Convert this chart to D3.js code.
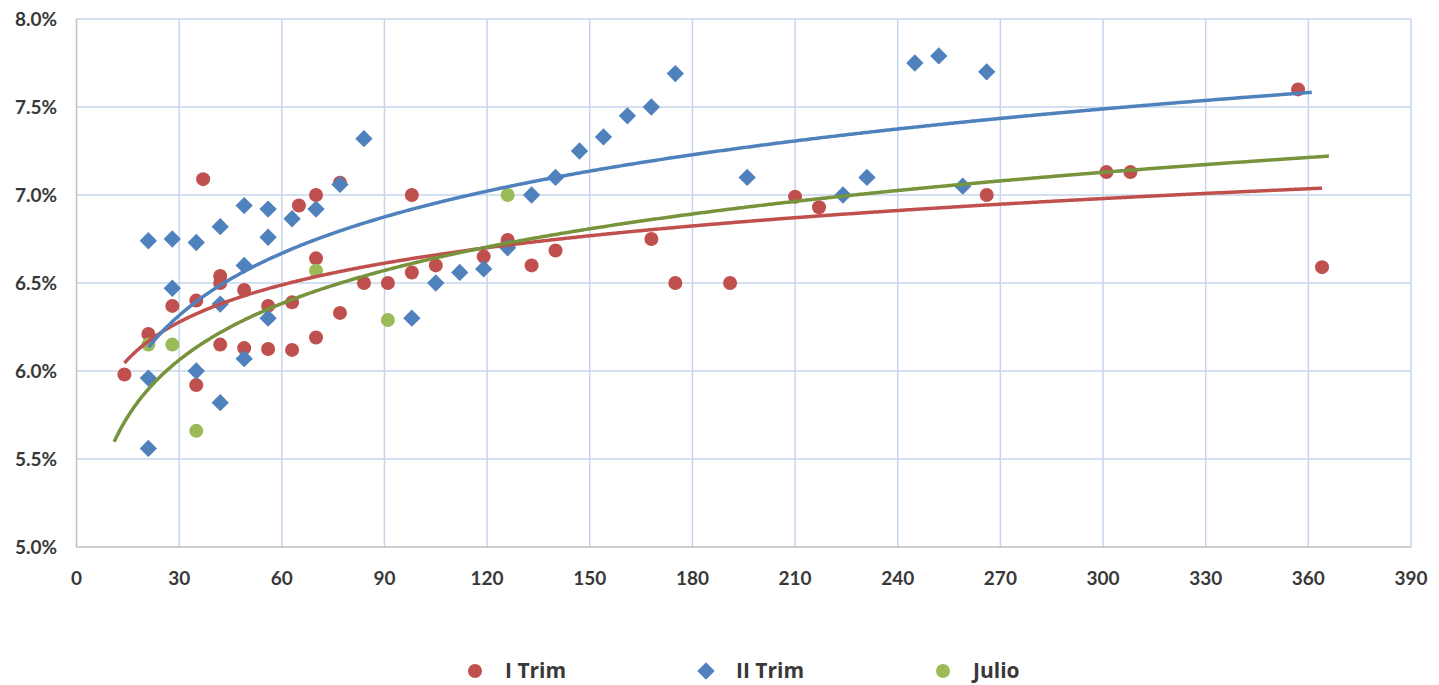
<!DOCTYPE html>
<html>
<head>
<meta charset="utf-8">
<script src="https://cdn.jsdelivr.net/npm/d3@7"></script>
<style>
  body { margin: 0; background: #fff; }
  text { font-family: Lato, "Open Sans", sans-serif; font-weight: bold; fill: #383838; }
</style>
</head>
<body>
<script>
// values (days, rate %)
var trim1Days = [14, 21, 28, 35, 35, 37, 42, 42, 42, 49, 49, 56, 56, 63, 63, 65, 70, 70, 70, 77, 77, 84, 91, 98, 98, 105, 119, 126, 133, 140, 168, 175, 191, 210, 217, 266, 301, 308, 357, 364];
var trim1Rates = [5.98, 6.21, 6.37, 6.40, 5.92, 7.09, 6.54, 6.50, 6.15, 6.46, 6.13, 6.37, 6.125, 6.39, 6.12, 6.94, 7.00, 6.64, 6.19, 7.07, 6.33, 6.50, 6.50, 7.00, 6.56, 6.60, 6.65, 6.745, 6.60, 6.685, 6.75, 6.50, 6.50, 6.99, 6.93, 7.00, 7.13, 7.13, 7.60, 6.59];

var trim2Days = [21, 21, 21, 28, 28, 35, 35, 42, 42, 42, 49, 49, 49, 56, 56, 56, 63, 70, 77, 84, 98, 105, 112, 119, 126, 133, 140, 147, 154, 161, 168, 175, 196, 224, 231, 245, 252, 259, 266];
var trim2Rates = [6.74, 5.96, 5.56, 6.75, 6.47, 6.73, 6.00, 6.82, 6.38, 5.82, 6.94, 6.60, 6.07, 6.92, 6.76, 6.30, 6.865, 6.92, 7.06, 7.32, 6.30, 6.50, 6.56, 6.58, 6.70, 7.00, 7.10, 7.25, 7.33, 7.45, 7.50, 7.69, 7.10, 7.00, 7.10, 7.75, 7.79, 7.05, 7.70];

var julioDays = [21, 28, 35, 70, 91, 126];
var julioRates = [6.15, 6.15, 5.66, 6.57, 6.29, 7.00];

// span of each logarithmic trend line (days)
var trim1Trend = [14, 364];
var trim2Trend = [21, 361];
var julioTrend = [11, 366];

var xTicks = d3.range(0, 391, 30);
var yTicks = [5.0, 5.5, 6.0, 6.5, 7.0, 7.5, 8.0];
var seriesNames = ["I Trim", "II Trim", "Julio"];

var width = 1439, height = 685;
var x = d3.scaleLinear().domain([0, 390]).range([76.5, 1411]);
var y = d3.scaleLinear().domain([5, 8]).range([547, 19]);

var svg = d3.select("body").append("svg")
    .attr("width", width)
    .attr("height", height);

// gridlines
svg.append("g").selectAll("line.vg")
  .data(xTicks.slice(1))
  .enter().append("line")
    .attr("x1", function(d) { return x(d); })
    .attr("x2", function(d) { return x(d); })
    .attr("y1", y(8)).attr("y2", y(5))
    .attr("stroke", "#C5D6EC").attr("stroke-width", 1.5);

svg.append("g").selectAll("line.hg")
  .data(yTicks.slice(1))
  .enter().append("line")
    .attr("x1", x(0)).attr("x2", x(390))
    .attr("y1", function(d) { return y(d); })
    .attr("y2", function(d) { return y(d); })
    .attr("stroke", "#C5D6EC").attr("stroke-width", 1.5);

// axes lines
svg.append("line")
    .attr("x1", x(0)).attr("x2", x(0)).attr("y1", y(8)).attr("y2", y(5))
    .attr("stroke", "#BFBFBF").attr("stroke-width", 1.5);
svg.append("line")
    .attr("x1", x(0)).attr("x2", x(390)).attr("y1", y(5)).attr("y2", y(5))
    .attr("stroke", "#BFBFBF").attr("stroke-width", 1.5);

// tick labels
svg.append("g").selectAll("text")
  .data(yTicks)
  .enter().append("text")
    .attr("x", 57)
    .attr("y", function(d) { return y(d); })
    .attr("dy", "0.35em")
    .attr("text-anchor", "end")
    .style("font-size", "19px")
    .text(function(d) { return d.toFixed(1) + "%"; });

svg.append("g").selectAll("text")
  .data(xTicks)
  .enter().append("text")
    .attr("x", function(d) { return x(d); })
    .attr("y", 578)
    .attr("dy", "0.35em")
    .attr("text-anchor", "middle")
    .style("font-size", "19px")
    .text(function(d) { return d; });

// least squares fit of y = a ln(x) + b, as the spreadsheet trend line does
function logFit(xs, ys) {
  var lx = xs.map(Math.log);
  var mx = d3.mean(lx), my = d3.mean(ys);
  var sxy = d3.sum(lx, function(v, i) { return (v - mx) * (ys[i] - my); });
  var sxx = d3.sum(lx, function(v) { return (v - mx) * (v - mx); });
  var a = sxy / sxx;
  return { a: a, b: my - a * mx };
}

function trendPoints(xs, ys, span) {
  var f = logFit(xs, ys);
  return d3.range(span[0], span[1] + 0.01, 0.5).map(function(t) {
    return [t, f.a * Math.log(t) + f.b];
  });
}

var line = d3.line()
    .x(function(d) { return x(d[0]); })
    .y(function(d) { return y(d[1]); });

var series = [
  { days: trim1Days, rates: trim1Rates, span: trim1Trend, color: "#C0504D", trend: "#C0504D", shape: "circle" },
  { days: trim2Days, rates: trim2Rates, span: trim2Trend, color: "#4F81BD", trend: "#4F81BD", shape: "diamond" },
  { days: julioDays, rates: julioRates, span: julioTrend, color: "#9BBB59", trend: "#77933C", shape: "circle" }
];

function drawMarker(g, s, cx, cy) {
  if (s.shape === "diamond") {
    g.append("path")
      .attr("d", d3.symbol().type(d3.symbolSquare).size(150)())
      .attr("transform", "translate(" + cx + "," + cy + ") rotate(45)")
      .attr("fill", s.color);
  } else {
    g.append("circle")
      .attr("cx", cx).attr("cy", cy).attr("r", 7)
      .attr("fill", s.color);
  }
}

// points first, trend lines on top
series.forEach(function(s) {
  var g = svg.append("g");
  s.days.forEach(function(d, i) { drawMarker(g, s, x(d), y(s.rates[i])); });
});

series.forEach(function(s) {
  svg.append("path")
    .datum(trendPoints(s.days, s.rates, s.span))
    .attr("d", line)
    .attr("fill", "none")
    .attr("stroke", s.trend)
    .attr("stroke-width", 3.5);
});

// legend
var legendX = [475, 706, 943];
series.forEach(function(s, i) {
  var g = svg.append("g");
  drawMarker(g, s, legendX[i], 671);
  g.append("text")
    .attr("x", legendX[i] + 30)
    .attr("y", 678)
    .style("font-family", "'Open Sans', sans-serif")
    .style("font-size", "21px")
    .text(seriesNames[i]);
});
</script>
</body>
</html>
